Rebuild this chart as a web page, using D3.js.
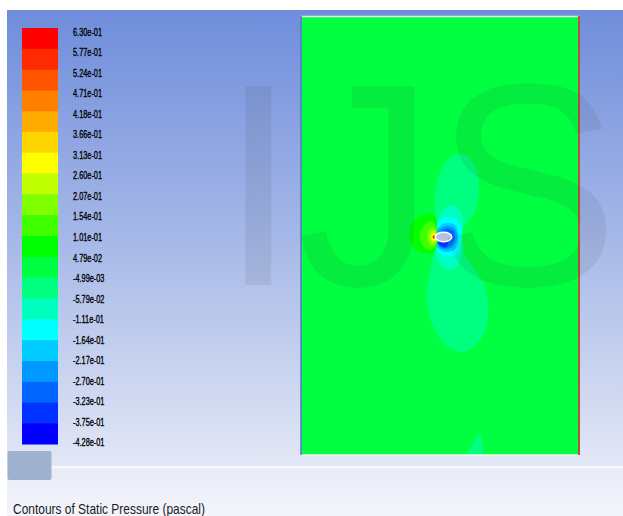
<!DOCTYPE html>
<html>
<head>
<meta charset="utf-8">
<script src="https://cdn.jsdelivr.net/npm/d3@7"></script>
<style>
  html, body { margin: 0; padding: 0; background: #fff; }
  svg { display: block; }
</style>
</head>
<body>
<svg id="chart" width="623" height="516"></svg>
<script>
// ---------------- DATA ----------------
// Colour-bar levels (static pressure, pascal), top to bottom
const levels = [0.630, 0.577, 0.524, 0.471, 0.418, 0.366, 0.313, 0.260, 0.207, 0.154, 0.101,
                0.0479, -0.00499, -0.0579, -0.111, -0.164, -0.217, -0.270, -0.323, -0.375, -0.428];
const levelLabels = ["6.30e-01", "5.77e-01", "5.24e-01", "4.71e-01", "4.18e-01", "3.66e-01", "3.13e-01",
                     "2.60e-01", "2.07e-01", "1.54e-01", "1.01e-01", "4.79e-02", "-4.99e-03", "-5.79e-02",
                     "-1.11e-01", "-1.64e-01", "-2.17e-01", "-2.70e-01", "-3.23e-01", "-3.75e-01", "-4.28e-01"];
// Band colours, lowest band first
const bandColors = ["#0000ff", "#0033ff", "#0066ff", "#0099ff", "#00ccff", "#00ffff", "#00ffbf", "#00ff80",
                    "#00ff40", "#00ff00", "#40ff00", "#80ff00", "#bfff00", "#ffff00", "#ffd500", "#ffaa00",
                    "#ff8000", "#ff5500", "#ff2b00", "#ff0000"];
// Flow domain extent (m)
const domainX = [0, 27.8];
const domainY = [0, 43.9];
const farFieldPressure = 0.02;
// Contour regions: pressure value inside, outline in domain coordinates (m)
const regions = [
  { p: -0.03, pts: [[16.2,30.1],[17.0,29.5],[17.6,28.3],[17.8,27.0],[17.7,25.5],[17.4,24.3],[16.7,23.3],[15.9,22.5],[14.4,22.3],[13.6,23.1],[13.4,24.5],[13.4,26.0],[13.7,27.7],[14.3,29.0],[15.2,29.9]] },
  { p: -0.03, pts: [[15.9,21.7],[16.4,20.0],[17.4,18.5],[18.3,17.0],[18.7,15.0],[18.5,12.7],[17.5,11.0],[16.1,10.3],[14.6,10.9],[13.4,12.5],[12.7,14.5],[12.6,16.5],[12.9,18.5],[13.3,20.3],[13.7,21.5]] },
  { p: -0.03, pts: [[17.8,2.1],[18.1,1.5],[18.2,0.8],[18.1,-0.3],[16.6,-0.3],[16.9,0.7],[17.4,1.4]] },
  { p: -0.08, pts: [[15.1,25.0],[16.0,24.3],[16.2,23.0],[16.1,21.5],[16.0,20.0],[15.5,18.8],[14.7,18.5],[13.8,19.3],[13.4,20.5],[13.3,21.7],[13.6,23.3],[14.2,24.5]] },
  { p: -0.14, pts: [[14.6,23.8],[15.5,23.6],[16.0,22.7],[16.0,21.3],[15.8,20.3],[15.1,19.8],[14.2,19.9],[13.5,20.5],[13.2,21.5],[13.4,22.8],[13.9,23.5]] },
  { p: -0.19, pts: [[14.7,23.2],[15.4,23.0],[15.7,22.3],[15.7,21.3],[15.3,20.5],[14.5,20.3],[13.8,20.6],[13.4,21.2],[13.4,22.2],[13.9,22.9]] },
  { p: -0.24, pts: [[14.6,22.9],[15.3,22.7],[15.6,22.0],[15.4,21.1],[14.8,20.6],[14.1,20.6],[13.6,21.1],[13.5,21.9],[13.9,22.6]] },
  { p: -0.30, pts: [[14.5,22.6],[15.1,22.5],[15.4,21.9],[15.1,21.1],[14.5,20.7],[13.9,20.9],[13.6,21.5],[13.8,22.2]] },
  { p: -0.35, pts: [[14.1,21.7],[14.7,21.4],[14.5,20.8],[14.0,20.9],[13.7,21.3]] },
  { p: 0.07, pts: [[12.9,24.1],[13.5,23.7],[13.6,22.5],[13.6,21.0],[13.3,20.3],[12.3,20.2],[11.3,20.7],[10.8,21.9],[11.1,23.1],[11.9,23.9]] },
  { p: 0.13, pts: [[13.0,23.4],[13.5,22.9],[13.5,20.9],[13.0,20.5],[12.3,20.8],[11.9,21.7],[12.1,22.7]] },
  { p: 0.18, pts: [[13.2,22.8],[13.5,22.3],[13.5,21.2],[13.1,20.9],[12.7,21.4],[12.7,22.3]] },
  { p: 0.23, pts: [[13.3,22.5],[13.5,22.1],[13.5,21.4],[13.2,21.2],[12.9,21.7],[13.0,22.2]] },
  { p: 0.29, pts: [[13.3,22.2],[13.5,22.0],[13.5,21.5],[13.2,21.4],[13.1,21.8]] },
  { p: 0.45, pts: [[13.3,22.0],[13.45,21.85],[13.3,21.6],[13.15,21.8]] },
  { p: 0.60, pts: [[13.25,21.9],[13.35,21.8],[13.25,21.7],[13.18,21.8]] }
];
// Obstacle (ellipse) centre and semi-axes (m)
const body = { cx: 14.25, cy: 21.8, rx: 0.82, ry: 0.47 };
const watermarkText = "IJS";
const titleText = "Contours of Static Pressure (pascal)";

// ---------------- DRAW ----------------
const svg = d3.select("#chart");
const W = 623, H = 516;
const defs = svg.append("defs");

const bg = defs.append("linearGradient").attr("id", "bg")
  .attr("x1", 0).attr("y1", 0).attr("x2", 0).attr("y2", 1);
bg.append("stop").attr("offset", "0%").attr("stop-color", "#6f8ddb");
bg.append("stop").attr("offset", "50%").attr("stop-color", "#a6b8e8");
bg.append("stop").attr("offset", "100%").attr("stop-color", "#e3e8f6");

const bg2 = defs.append("linearGradient").attr("id", "bg2")
  .attr("x1", 0).attr("y1", 0).attr("x2", 0).attr("y2", 1);
bg2.append("stop").attr("offset", "0%").attr("stop-color", "#e8ebf7");
bg2.append("stop").attr("offset", "100%").attr("stop-color", "#f4f5fb");

svg.append("rect").attr("width", W).attr("height", H).attr("fill", "#ffffff");
svg.append("rect").attr("x", 7).attr("y", 10).attr("width", W - 7).attr("height", 458).attr("fill", "url(#bg)");
svg.append("rect").attr("x", 7).attr("y", 468).attr("width", W - 7).attr("height", H - 468).attr("fill", "url(#bg2)");
svg.append("rect").attr("x", 7).attr("y", 466).attr("width", W - 7).attr("height", 2.5).attr("fill", "#f7f8fd");

// colour bar
const barScale = d3.scaleLinear().domain([levels[0], levels[levels.length - 1]]).range([28, 444]);
const labelScale = d3.scaleLinear().domain([levels[0], levels[levels.length - 1]]).range([31.5, 442]);
const bands = d3.range(levels.length - 1).map(i => ({ top: levels[i], bottom: levels[i + 1], color: bandColors[levels.length - 2 - i] }));
svg.append("g").selectAll("rect").data(bands).join("rect")
  .attr("x", 22).attr("width", 36)
  .attr("y", d => barScale(d.top))
  .attr("height", d => barScale(d.bottom) - barScale(d.top) + 0.5)
  .attr("fill", d => d.color);

svg.append("g").selectAll("text").data(levels).join("text")
  .attr("transform", (d, i) => `translate(73,${labelScale(d)}) scale(0.64,1)`)
  .attr("dy", "0.36em")
  .attr("font-family", "Liberation Sans, Arial, sans-serif")
  .attr("font-size", 11.5)
  .attr("fill", "#000")
  .attr("stroke", "#000").attr("stroke-width", 0.35)
  .text((d, i) => levelLabels[i]);

// grey legend box
svg.append("rect").attr("x", 7.5).attr("y", 451).attr("width", 44).attr("height", 29).attr("rx", 2)
  .attr("fill", "#9eb2d0");

// domain
const x = d3.scaleLinear().domain(domainX).range([301, 579]);
const y = d3.scaleLinear().domain(domainY).range([455, 16]);
const color = d3.scaleThreshold().domain(levels.slice(1, -1).slice().reverse()).range(bandColors);

defs.append("clipPath").attr("id", "dom").append("rect")
  .attr("x", x(domainX[0])).attr("y", y(domainY[1]))
  .attr("width", x(domainX[1]) - x(domainX[0])).attr("height", y(domainY[0]) - y(domainY[1]));

const dom = svg.append("g").attr("clip-path", "url(#dom)");
dom.append("rect")
  .attr("x", x(domainX[0])).attr("y", y(domainY[1]))
  .attr("width", x(domainX[1]) - x(domainX[0])).attr("height", y(domainY[0]) - y(domainY[1]))
  .attr("fill", color(farFieldPressure));

const line = d3.line().x(d => x(d[0])).y(d => y(d[1])).curve(d3.curveCatmullRomClosed.alpha(0.5));
dom.selectAll("path.reg").data(regions).join("path").attr("class", "reg")
  .attr("d", d => line(d.pts))
  .attr("fill", d => color(d.p));

dom.append("ellipse")
  .attr("cx", x(body.cx)).attr("cy", y(body.cy))
  .attr("rx", x(body.cx + body.rx) - x(body.cx)).attr("ry", y(body.cy) - y(body.cy + body.ry))
  .attr("fill", "#b7c1e2").attr("stroke", "#ffffff").attr("stroke-width", 1.6);

// domain edges
const x0 = x(domainX[0]), x1 = x(domainX[1]), y0 = y(domainY[0]), y1 = y(domainY[1]);
svg.append("line").attr("x1", x0).attr("x2", x1).attr("y1", y1 + 0.5).attr("y2", y1 + 0.5).attr("stroke", "#dff3ea").attr("stroke-width", 1.5);
svg.append("line").attr("x1", x0).attr("x2", x1).attr("y1", y0).attr("y2", y0).attr("stroke", "#eef7ee").attr("stroke-width", 1.5);
svg.append("line").attr("x1", x0).attr("x2", x0).attr("y1", y1).attr("y2", y0).attr("stroke", "#5b73d8").attr("stroke-width", 1.5);
svg.append("line").attr("x1", x1).attr("x2", x1).attr("y1", y1).attr("y2", y0).attr("stroke", "#b5523c").attr("stroke-width", 2);

// watermark
svg.append("text")
  .attr("transform", "translate(220,285) scale(0.955,1)")
  .attr("font-family", "Liberation Sans, Arial, sans-serif")
  .attr("font-size", 289)
  .attr("fill", "rgba(40,60,60,0.09)")
  .text(watermarkText);

// title
svg.append("text")
  .attr("x", 13).attr("y", 514)
  .attr("font-family", "Liberation Sans, Arial, sans-serif")
  .attr("font-size", 15)
  .attr("textLength", 192).attr("lengthAdjust", "spacingAndGlyphs")
  .attr("fill", "#1a1a1a")
  .text(titleText);
</script>
</body>
</html>
